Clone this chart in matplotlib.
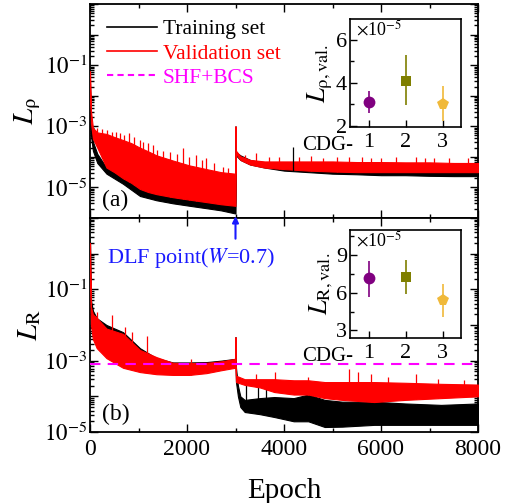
import numpy as np
import matplotlib
matplotlib.use("Agg")
import matplotlib.pyplot as plt
from matplotlib.lines import Line2D
from matplotlib.ticker import FixedLocator, LogLocator, FuncFormatter, NullFormatter

plt.rcParams["font.family"] = ["Liberation Serif", "DejaVu Serif"]
plt.rcParams["mathtext.fontset"] = "stix"

# ---------------- data (log10 of the loss) ----------------
# (a) density loss, training set: dense band limits
a_train_epoch = [0, 20, 60, 150, 340, 680, 1030, 1370, 1710, 2050, 2400, 2700, 2990,
                 3000, 3010, 3100, 3300, 3600, 4000, 4500, 5000, 5500, 6000, 6500, 7000, 7500, 8000]
a_train_hi = [-1.6, -3.0, -3.5, -3.9, -4.35, -4.68, -5.03, -5.15, -5.25, -5.33, -5.42, -5.47, -5.51,
              -3.0, -3.85, -3.95, -4.1, -4.2, -4.25, -4.28, -4.3, -4.32, -4.33, -4.34, -4.35, -4.35, -4.35]
a_train_lo = [-2.0, -3.3, -3.8, -4.2, -4.55, -4.88, -5.28, -5.42, -5.52, -5.6, -5.68, -5.75, -5.85,
              -5.85, -3.95, -4.1, -4.25, -4.35, -4.45, -4.5, -4.55, -4.57, -4.6, -4.6, -4.62, -4.63, -4.63]

# (a) density loss, validation set
a_val_epoch = [0, 20, 60, 150, 340, 500, 680, 850, 1030, 1200, 1370, 1710, 2050, 2400, 2700, 2990,
               3000, 3010, 3100, 3300, 3600, 4000, 4500, 5000, 5500, 6000, 6500, 7000, 7500, 8000]
a_val_hi = [-1.2, -2.5, -3.05, -3.2, -3.25, -3.35, -3.45, -3.55, -3.7, -3.82, -3.95, -4.12, -4.28, -4.4, -4.5, -4.55,
            -3.0, -3.8, -3.98, -4.1, -4.15, -4.15, -4.15, -4.15, -4.17, -4.17, -4.18, -4.18, -4.2, -4.2]
a_val_lo = [-1.8, -2.9, -3.4, -3.7, -4.35, -4.5, -4.7, -4.85, -5.05, -5.15, -5.22, -5.32, -5.4, -5.48, -5.55, -5.6,
            -5.6, -3.9, -4.1, -4.25, -4.35, -4.4, -4.45, -4.48, -4.5, -4.5, -4.5, -4.5, -4.5, -4.5]

a_val_spike_epoch = [137, 250, 350, 446, 530, 617, 700, 809, 900, 1029, 1100, 1200, 1300, 1372,
                     1500, 1650, 1800, 1920, 2050, 2195, 2300, 2400, 2550, 2743, 2850,
                     3200, 3430, 3700, 3900, 4300, 4560, 4800, 5100, 5350, 5600, 5795, 6000,
                     6300, 6720, 6900, 7100, 7400, 7800]
a_val_spike_top = [-3.07, -3.1, -3.12, -3.18, -3.2, -3.23, -3.3, -3.23, -3.35, -3.45, -3.5, -3.56, -3.6, -3.78,
                   -3.8, -3.85, -3.9, -3.72, -4.0, -3.94, -4.1, -4.04, -4.2, -4.32, -4.35,
                   -3.95, -3.88, -4.0, -4.02, -4.0, -3.97, -4.05, -4.02, -4.0, -4.02, -4.05, -4.05,
                   -4.02, -4.0, -4.05, -4.05, -4.05, -4.05]
a_train_spike_epoch = [4184]
a_train_spike_top = [-3.67]

# (b) radius loss, training set
b_train_epoch = [0, 20, 60, 140, 340, 680, 1030, 1370, 1710, 2050, 2400, 2700, 2990,
                 3000, 3010, 3050, 3100, 3190, 3500, 3800, 4200, 4500, 4840, 5200, 5860, 6500, 7240, 8000]
b_train_hi = [0.3, -1.3, -1.6, -1.81, -2.0, -2.2, -2.65, -2.93, -3.05, -3.05, -3.04, -3.0, -2.95,
              -2.34, -3.2, -3.7, -4.0, -4.1, -4.05, -4.02, -4.05, -3.95, -4.1, -4.15, -4.15, -4.2, -4.24, -4.2]
b_train_lo = [-0.5, -1.6, -2.2, -2.4, -2.6, -2.8, -3.0, -3.15, -3.2, -3.2, -3.2, -3.15, -3.1,
              -3.1, -3.6, -4.0, -4.3, -4.44, -4.5, -4.58, -4.7, -4.7, -4.86, -4.85, -4.8, -4.8, -4.8, -4.8]
b_train_spike_epoch = [3224, 3463, 3627]
b_train_spike_top = [-3.64, -3.73, -3.78]

# (b) radius loss, validation set
b_val_epoch = [0, 20, 60, 140, 340, 680, 1030, 1370, 1710, 2050, 2400, 2700, 2990,
               3000, 3010, 3190, 3500, 3800, 4200, 4500, 4840, 5200, 5860, 6500, 7240, 8000]
b_val_hi = [0.3, -1.5, -1.7, -1.8, -2.1, -2.25, -2.7, -2.9, -3.06, -3.07, -3.06, -3.02, -2.95,
            -2.34, -3.42, -3.52, -3.52, -3.52, -3.55, -3.55, -3.6, -3.6, -3.6, -3.62, -3.65, -3.67]
b_val_lo = [-0.3, -2.0, -2.4, -2.65, -2.93, -3.2, -3.32, -3.38, -3.4, -3.4, -3.35, -3.27, -3.2,
            -3.2, -3.6, -3.68, -3.75, -3.88, -3.95, -3.95, -4.05, -4.1, -4.16, -4.1, -4.05, -4.0]
b_val_spike_epoch = [137, 446, 720, 858, 1166, 2092,
                     3430, 3807, 4486, 5350, 5521, 5796, 6138, 6722, 7167, 7716]
b_val_spike_top = [-1.64, -1.73, -2.05, -2.19, -2.3, -2.94,
                   -3.36, -3.31, -3.45, -3.22, -3.31, -3.36, -3.45, -3.36, -3.5, -3.55]

shf_bcs_R = 7.9e-4

# inset data (units of 1e-5)
cdg = [1, 2, 3]
rho_val = [3.1, 4.1, 3.02]
rho_err_up = [0.52, 1.2, 0.85]
rho_err_dn = [0.5, 1.15, 0.8]
r_val = [7.15, 7.25, 5.4]
r_err_up = [1.42, 1.35, 1.3]
r_err_dn = [1.45, 1.38, 1.3]
cdg_colors = ["#800080", "#7f7f00", "#f0b93a"]
cdg_markers = ["o", "s", "p"]

# ---------------- figure ----------------
W, H = 517, 503
fig = plt.figure(figsize=(W / 100, H / 100), dpi=100)

def fr(x0, y0, x1, y1):
    return [x0 / W, 1 - y1 / H, (x1 - x0) / W, (y1 - y0) / H]

ax_a = fig.add_axes(fr(90, 4, 478, 218))
ax_b = fig.add_axes(fr(90, 218, 478, 432))

RED = "#ff0000"
BLK = "#000000"
MAG = "#ff00ff"
BLUE = "#1a1aff"

def band(ax, ep, hi, lo, color, z):
    ep = np.asarray(ep, float)
    ax.fill_between(ep, 10.0 ** np.asarray(lo), 10.0 ** np.asarray(hi),
                    color=color, lw=0.8, zorder=z)

def spikes(ax, ep, top, base_ep, base_lo, color, z):
    base = np.interp(ep, base_ep, base_lo)
    ax.vlines(ep, 10.0 ** base, 10.0 ** np.asarray(top), color=color, lw=0.9, zorder=z)

band(ax_a, a_train_epoch, a_train_hi, a_train_lo, BLK, 2)
band(ax_a, a_val_epoch, a_val_hi, a_val_lo, RED, 3)
spikes(ax_a, a_val_spike_epoch, a_val_spike_top, a_val_epoch, a_val_lo, RED, 3)
spikes(ax_a, a_train_spike_epoch, a_train_spike_top, a_train_epoch, a_train_lo, BLK, 4)

band(ax_b, b_train_epoch, b_train_hi, b_train_lo, BLK, 2)
spikes(ax_b, b_train_spike_epoch, b_train_spike_top, b_train_epoch, b_train_lo, BLK, 2)
band(ax_b, b_val_epoch, b_val_hi, b_val_lo, RED, 3)
spikes(ax_b, b_val_spike_epoch, b_val_spike_top, b_val_epoch, b_val_lo, RED, 3)
ax_b.axhline(shf_bcs_R, color=MAG, lw=1.5, dashes=(5, 3.5), zorder=4)

labeled = {-1, -3, -5}

def logfmt(v, pos):
    e = int(round(np.log10(v)))
    return r"$10^{%d}$" % e if e in labeled else ""

for ax, (lo, hi) in ((ax_a, (1e-6, 10)), (ax_b, (1e-5, 10))):
    ax.set_yscale("log")
    ax.set_ylim(lo, hi)
    ax.set_xlim(0, 8000)
    ax.xaxis.set_major_locator(FixedLocator([0, 2000, 4000, 6000, 8000]))
    ax.xaxis.set_minor_locator(FixedLocator([1000, 3000, 5000, 7000]))
    ax.yaxis.set_major_locator(LogLocator(base=10, numticks=20))
    ax.yaxis.set_minor_locator(LogLocator(base=10, subs=np.arange(2, 10), numticks=20))
    ax.yaxis.set_major_formatter(FuncFormatter(logfmt))
    ax.yaxis.set_minor_formatter(NullFormatter())
    ax.tick_params(which="both", direction="in", top=True, right=True, width=1.0)
    ax.tick_params(which="major", length=6)
    ax.tick_params(axis="x", labelsize=17, pad=5)
    ax.tick_params(axis="y", labelsize=16.5, pad=2)
    ax.tick_params(which="minor", length=3)
    for s in ax.spines.values():
        s.set_linewidth(1.3)

ax_a.tick_params(labelbottom=False)
ax_b.set_xlabel("Epoch", fontsize=21, labelpad=13)
ax_a.set_ylabel(r"$L_{\mathrm{ρ}}$", fontsize=21, labelpad=1)
ax_b.set_ylabel(r"$L_{\mathrm{R}}$", fontsize=21, labelpad=1)

ax_a.text(0.03, 0.08, "(a)", transform=ax_a.transAxes, fontsize=17, va="center")
ax_b.text(0.03, 0.08, "(b)", transform=ax_b.transAxes, fontsize=17, va="center")

handles = [Line2D([], [], color=BLK, lw=1.2),
           Line2D([], [], color=RED, lw=1.2),
           Line2D([], [], color=MAG, lw=1.5, dashes=(3, 2))]
labels = ["Training set", "Validation set", "SHF+BCS"]
leg = ax_a.legend(handles, labels, loc="upper left", bbox_to_anchor=(0.005, 1.0),
                  frameon=False, fontsize=15.5, handlelength=2.3, handletextpad=0.3,
                  labelspacing=0.2, borderaxespad=0.3)
for t, c in zip(leg.get_texts(), [BLK, RED, MAG]):
    t.set_color(c)

# DLF marker between the panels
ax_b.annotate("", xy=(3000, 10 ** 1.05), xytext=(3000, 10 ** 0.42),
              arrowprops=dict(arrowstyle="-|>", color=BLUE, lw=1.5,
                              mutation_scale=9, shrinkA=0, shrinkB=0),
              annotation_clip=False, zorder=6)
ax_b.text(0.043, 10 ** -0.13, r"DLF point($\mathit{W}$=0.7)", color=BLUE, fontsize=16,
          transform=ax_b.get_yaxis_transform(), va="center")

# ---------------- insets ----------------
def inset(rect, vals, eup, edn, ylim, yt, ymt, ylabel):
    ax = fig.add_axes(rect)
    for x, v, u, d, c, m in zip(cdg, vals, eup, edn, cdg_colors, cdg_markers):
        ax.errorbar([x], [v], yerr=[[d], [u]], fmt=m, color=c, ecolor=c,
                    ms=8.5 if m != "s" else 7, elinewidth=1.2, capsize=4, capthick=1.2,
                    mew=0, zorder=3)
    ax.set_xlim(0.5, 3.5)
    ax.set_ylim(*ylim)
    ax.set_xticks(cdg)
    ax.set_xticklabels([str(c) for c in cdg])
    ax.set_yticks(yt)
    ax.set_yticks(ymt, minor=True)
    ax.tick_params(which="both", direction="in", top=False, right=False, width=1.0)
    ax.tick_params(which="major", length=5, labelsize=16)
    ax.tick_params(axis="y", pad=2)
    ax.tick_params(axis="x", pad=4)
    ax.tick_params(which="minor", length=3)
    for s in ax.spines.values():
        s.set_linewidth(1.2)
    ax.set_ylabel(ylabel, fontsize=19, labelpad=1)
    ax.text(0.03, -0.085, "CDG-", transform=ax.transAxes, ha="right", va="top", fontsize=15)
    ax.text(0.05, 0.9, r"$\times$10$^{-5}$", transform=ax.transAxes, ha="left",
            va="center", fontsize=13)
    return ax

inset(fr(350, 19, 461, 127), rho_val, rho_err_up, rho_err_dn, (1.95, 6.95),
      [2, 4, 6], [3, 5], r"$L_{\mathrm{ρ,val.}}$")
inset(fr(350, 230, 461, 338), r_val, r_err_up, r_err_dn, (2.4, 11.0),
      [3, 6, 9], [4.5, 7.5, 10.5], r"$L_{\mathrm{R,val.}}$")

fig.savefig("out.png", dpi=100)
